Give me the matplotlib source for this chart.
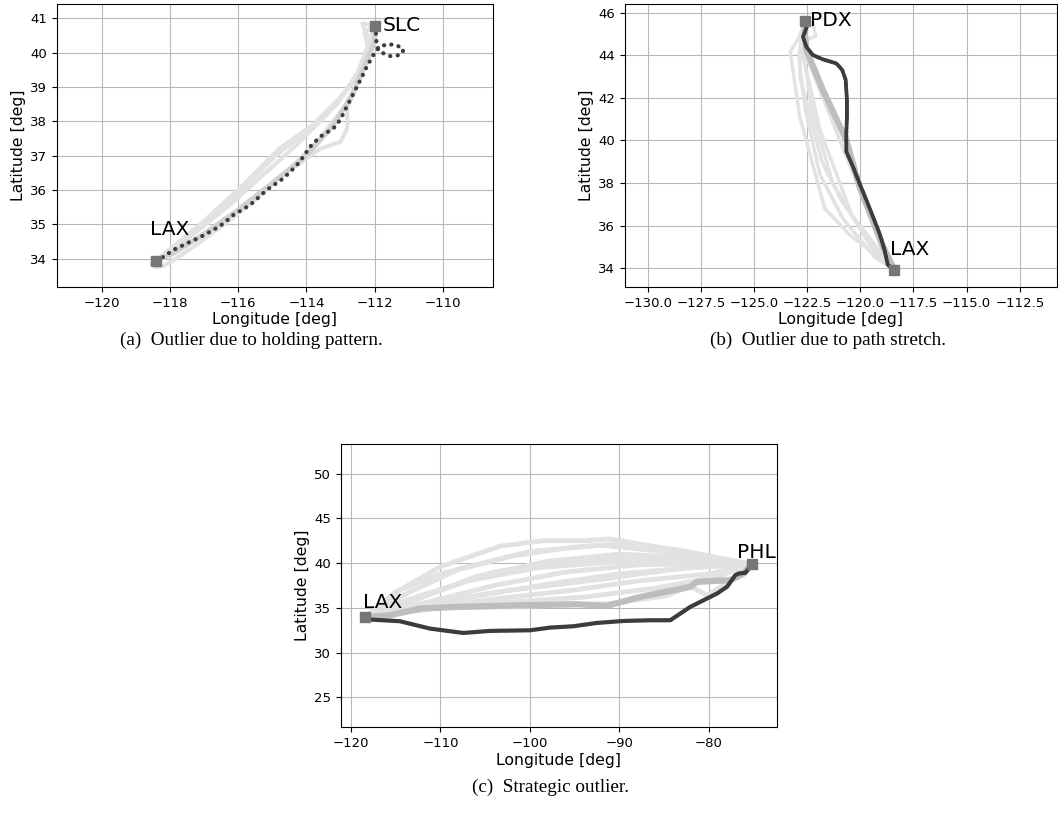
import matplotlib
matplotlib.use("Agg")
import matplotlib.pyplot as plt

# ---------------------------------------------------------------- airports
LAX = (-118.41, 33.94)
SLC = (-111.98, 40.79)
PDX = (-122.60, 45.59)
PHL = (-75.24, 39.87)

# ------------------------------------------------- (a) LAX -> SLC holding
a_outlier_lon = [-118.41, -118.19, -117.90, -117.51, -117.12, -116.73, -116.43, -116.14,
                 -115.65, -115.16, -114.67, -114.28, -114.09, -113.89, -113.60, -113.21,
                 -113.01, -112.82, -112.62, -112.42, -112.23, -111.98, -111.84, -111.64,
                 -111.35, -111.15, -111.25, -111.54, -111.74, -111.94, -111.96, -111.98]
a_outlier_lat = [33.94, 34.05, 34.25, 34.44, 34.62, 34.83, 35.02, 35.27,
                 35.56, 36.00, 36.34, 36.72, 36.97, 37.26, 37.55, 37.79,
                 38.04, 38.42, 38.81, 39.20, 39.59, 40.03, 40.17, 40.25,
                 40.22, 40.08, 39.93, 39.90, 39.98, 40.17, 40.56, 40.79]

a_mean_lon = [-118.41, -117.90, -117.00, -116.00, -115.00, -114.00, -113.20, -112.70,
              -112.30, -112.00, -111.98]
a_mean_lat = [33.94, 34.15, 34.72, 35.42, 36.20, 37.00, 37.90, 38.70, 39.60, 40.30, 40.79]

a_nominal = [
    ([-118.41, -117.80, -117.20, -116.20, -115.20, -114.30, -113.40, -112.60, -112.20, -112.10, -111.98],
     [33.94, 34.30, 34.80, 35.60, 36.50, 37.30, 38.20, 39.20, 39.90, 40.50, 40.79]),
    ([-118.41, -117.60, -116.90, -115.90, -114.90, -114.00, -113.10, -112.50, -112.20, -112.30, -111.98],
     [33.94, 34.50, 35.10, 36.00, 37.00, 37.70, 38.50, 39.40, 40.20, 40.60, 40.79]),
    ([-118.55, -118.41, -118.20, -117.90, -117.30, -116.40, -115.40, -114.50, -113.60, -112.90,
      -112.40, -112.10, -111.98],
     [33.85, 33.75, 33.78, 33.95, 34.35, 35.00, 35.80, 36.60, 37.50, 38.40, 39.30, 40.10, 40.79]),
    ([-118.41, -117.10, -115.90, -114.80, -113.80, -112.90, -112.30, -112.05, -112.25, -112.35, -111.98],
     [33.94, 35.00, 36.10, 37.20, 37.90, 38.80, 39.70, 40.30, 40.55, 40.85, 40.79]),
    ([-114.30, -113.60, -113.00, -112.80, -112.80, -112.55],
     [36.70, 37.20, 37.40, 37.80, 38.40, 39.00]),
]

# --------------------------------------------- (b) LAX -> PDX path stretch
b_outlier_lon = [-122.60, -122.46, -122.57, -122.70, -122.54, -122.23, -121.76, -121.13,
                 -120.85, -120.69, -120.63, -120.63, -120.66, -120.66, -120.35, -120.04,
                 -119.72, -119.41, -119.10, -118.86, -118.71, -118.41]
b_outlier_lat = [45.59, 45.53, 45.19, 44.87, 44.40, 44.01, 43.81, 43.62,
                 43.31, 42.84, 41.90, 41.12, 40.34, 39.48, 38.77, 37.99,
                 37.21, 36.43, 35.64, 34.86, 34.16, 33.94]

b_mean_lon = [-122.60, -122.60, -122.54, -121.76, -120.66, -120.04, -118.94, -118.47, -118.41]
b_mean_lat = [45.59, 45.00, 44.25, 42.37, 40.02, 37.83, 35.02, 34.08, 33.94]

b_nominal = [
    ([-122.60, -122.90, -123.30, -122.85, -121.68, -120.50, -118.41],
     [45.59, 44.80, 44.17, 41.12, 36.82, 35.57, 33.94]),
    ([-122.60, -122.70, -122.90, -122.60, -121.90, -120.80, -119.30, -118.41],
     [45.59, 45.00, 44.00, 41.50, 38.40, 36.30, 34.50, 33.94]),
    ([-122.60, -122.75, -122.70, -122.30, -121.30, -119.50, -118.41],
     [45.59, 44.80, 44.30, 41.50, 38.00, 35.00, 33.94]),
    ([-122.60, -122.20, -122.10, -122.60, -122.70, -121.90, -120.40, -118.41],
     [45.59, 45.40, 44.90, 44.70, 44.00, 40.50, 36.50, 33.94]),
    ([-122.60, -122.80, -122.85, -121.80, -120.90, -119.80, -118.41],
     [45.59, 45.00, 43.00, 39.00, 37.20, 35.60, 33.94]),
    ([-122.60, -122.70, -122.60, -121.60, -120.40, -119.00, -118.41],
     [45.59, 44.90, 44.10, 41.60, 38.60, 35.40, 33.94]),
]

# ------------------------------------------------ (c) LAX -> PHL strategic
c_outlier_lon = [-118.41, -114.52, -111.17, -107.44, -104.45, -99.98, -97.74, -95.14,
                 -92.53, -89.54, -86.56, -84.32, -82.09, -79.11, -77.99, -77.05,
                 -76.68, -75.94, -75.56, -75.24]
c_outlier_lat = [33.73, 33.51, 32.69, 32.20, 32.43, 32.50, 32.80, 32.95,
                 33.32, 33.54, 33.62, 33.62, 35.11, 36.60, 37.35, 38.66,
                 38.84, 38.92, 39.40, 39.87]

c_mean_lon = [-118.41, -115.64, -112.28, -108.18, -100.73, -94.76, -91.41, -87.68,
              -82.09, -81.34, -77.61, -76.12, -75.24]
c_mean_lat = [33.94, 34.18, 34.93, 35.11, 35.30, 35.41, 35.22, 36.23,
              37.35, 37.91, 38.10, 38.84, 39.87]

c_nominal = [
    ([-118.41, -114.5, -110.0, -103.3, -98.5, -94.0, -91.0, -85.8, -82.0, -77.2, -75.24],
     [33.94, 37.0, 39.6, 41.9, 42.5, 42.5, 42.7, 41.8, 41.0, 40.1, 39.87]),
    ([-118.41, -114.0, -108.0, -100.0, -92.0, -85.0, -79.0, -75.24],
     [33.94, 36.5, 39.3, 41.3, 42.0, 41.3, 40.3, 39.87]),
    ([-118.41, -113.0, -106.0, -98.0, -90.0, -82.0, -75.24],
     [33.94, 35.8, 38.5, 40.2, 41.0, 40.6, 39.87]),
    ([-118.41, -112.0, -104.0, -96.0, -88.0, -80.0, -75.24],
     [33.94, 35.5, 37.5, 39.0, 39.8, 40.0, 39.87]),
    ([-118.41, -112.0, -105.0, -97.0, -90.0, -82.0, -75.24],
     [33.94, 35.2, 36.5, 37.8, 38.8, 39.5, 39.87]),
    ([-118.41, -113.0, -104.0, -95.0, -88.0, -80.0, -75.24],
     [33.94, 34.8, 36.0, 37.0, 38.0, 38.8, 39.87]),
    ([-118.41, -112.0, -103.0, -94.0, -86.0, -79.0, -75.24],
     [33.94, 35.0, 35.6, 36.2, 37.2, 38.5, 39.87]),
    ([-118.41, -111.0, -102.0, -92.0, -84.0, -78.0, -75.24],
     [33.94, 35.6, 37.0, 38.2, 39.3, 39.8, 39.87]),
    ([-118.41, -112.0, -104.0, -94.0, -86.0, -78.0, -75.24],
     [33.94, 36.3, 39.0, 40.3, 40.6, 40.2, 39.87]),
    ([-118.41, -110.0, -100.0, -91.0, -85.0, -82.1, -80.2, -78.0, -75.24],
     [33.94, 35.0, 35.2, 35.5, 36.3, 37.4, 36.4, 37.8, 39.87]),
    ([-118.41, -114.0, -107.0, -99.0, -91.0, -84.0, -78.0, -75.24],
     [33.94, 35.8, 38.0, 39.5, 40.1, 40.2, 39.9, 39.87]),
    ([-118.41, -115.0, -110.0, -102.0, -95.0, -89.0, -83.0, -75.24],
     [33.94, 36.8, 38.8, 40.8, 41.8, 42.2, 41.4, 39.87]),
]

# ------------------------------------------------------------------ style
NOMINAL = "#e2e2e2"
MEAN = "#bdbdbd"
OUTLIER = "#3c3c3c"
AIRPORT = "#767676"
TICK_FS = 9.5
LABEL_FS = 11.3
CODE_FS = 14.5

fig = plt.figure(figsize=(10.58, 8.15), dpi=100)
W, H = 1058.0, 815.0


def add_axes(left, top, right, bottom):
    return fig.add_axes([left / W, 1 - bottom / H, (right - left) / W, (bottom - top) / H])


def style(ax, xlim, ylim, xticks, yticks):
    ax.set_xlim(*xlim)
    ax.set_ylim(*ylim)
    ax.set_xticks(xticks)
    ax.set_yticks(yticks)
    ax.grid(True, color="#b8b8b8", linewidth=0.8)
    ax.set_axisbelow(True)
    ax.tick_params(labelsize=TICK_FS)
    ax.set_xlabel("Longitude [deg]", fontsize=LABEL_FS, labelpad=2)
    ax.set_ylabel("Latitude [deg]", fontsize=LABEL_FS, labelpad=3)


def airport(ax, pos, code, dx, dy):
    """Square marker at the airport and its code, offset (dx, dy) in pixels."""
    ax.plot(*pos, marker="s", markersize=7.5, color=AIRPORT, zorder=6)
    ax.annotate(code, xy=pos, xytext=(dx * 0.72, dy * 0.72), textcoords="offset points",
                ha="left", va="center", fontsize=CODE_FS, zorder=7)


# (a)
ax_a = add_axes(57, 4, 493, 287)
for lon, lat in a_nominal:
    ax_a.plot(lon, lat, color=NOMINAL, lw=3.0, solid_capstyle="round", zorder=2)
ax_a.plot(a_mean_lon, a_mean_lat, color="#d0d0d0", lw=3.5, zorder=3)
ax_a.plot(a_outlier_lon, a_outlier_lat, color=OUTLIER, lw=3.0, zorder=4,
          linestyle=(0, (0.05, 1.75)), dash_capstyle="round")
airport(ax_a, LAX, "LAX", -6, 31)
airport(ax_a, SLC, "SLC", 7, 0)
style(ax_a, (-121.31, -108.53), (33.17, 41.42), range(-120, -109, 2), range(34, 42))

# (b)
ax_b = add_axes(625, 4, 1057, 287)
for lon, lat in b_nominal:
    ax_b.plot(lon, lat, color=NOMINAL, lw=2.5, zorder=2)
ax_b.plot(b_mean_lon, b_mean_lat, color=MEAN, lw=4.5, zorder=3)
ax_b.plot(b_outlier_lon, b_outlier_lat, color=OUTLIER, lw=2.8, zorder=4,
          linestyle=(0, (0.6, 0.45)), dash_capstyle="round")
airport(ax_b, PDX, "PDX", 5, 1)
airport(ax_b, LAX, "LAX", -4, 20)
style(ax_b, (-131.07, -110.75), (33.12, 46.41),
      [-130.0 + 2.5 * i for i in range(8)], range(34, 47, 2))
ax_b.set_xticklabels([f"{-130.0 + 2.5 * i:.1f}".replace("-", "\u2212") for i in range(8)])

# (c)
ax_c = add_axes(341, 444, 777, 727)
for lon, lat in c_nominal:
    ax_c.plot(lon, lat, color=NOMINAL, lw=3.5, solid_capstyle="round", zorder=2)
ax_c.plot(c_mean_lon, c_mean_lat, color=MEAN, lw=4.5, solid_capstyle="round", zorder=3)
ax_c.plot(c_outlier_lon, c_outlier_lat, color=OUTLIER, lw=3.0, solid_capstyle="round", zorder=4)
airport(ax_c, LAX, "LAX", -2, 15)
airport(ax_c, PHL, "PHL", -15, 12)
style(ax_c, (-121.1, -72.4), (21.7, 53.3), range(-120, -79, 10), range(25, 51, 5))

# sub-figure captions
cap = dict(ha="center", va="center", fontsize=13.8, family="Liberation Serif")
fig.text(251 / W, 1 - 340 / H, "(a)  Outlier due to holding pattern.", **cap)
fig.text(828 / W, 1 - 340 / H, "(b)  Outlier due to path stretch.", **cap)
fig.text(550 / W, 1 - 787 / H, "(c)  Strategic outlier.", **cap)

fig.savefig("out.png", dpi=100)
